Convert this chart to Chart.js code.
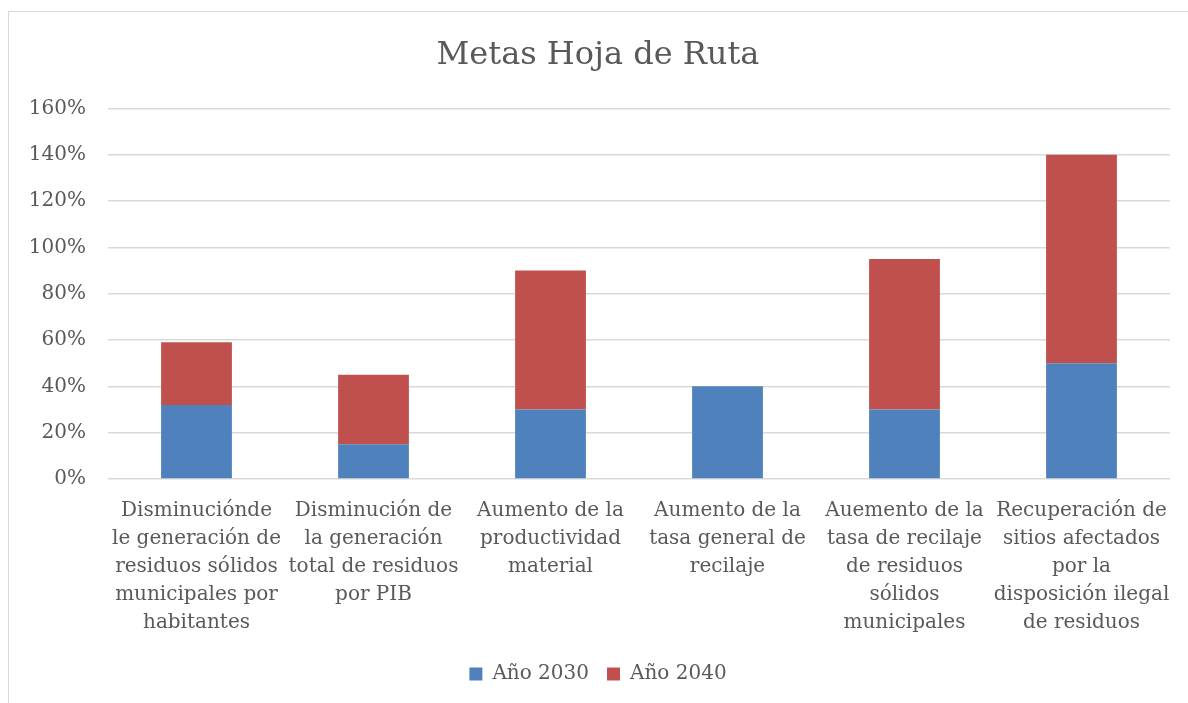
<!DOCTYPE html>
<html>
<head>
<meta charset="utf-8">
<script src="https://cdn.jsdelivr.net/npm/chart.js@4.4.1/dist/chart.umd.min.js"></script>
<style>
    html, body { margin: 0; padding: 0; background: #ffffff; }
    #frame {
        position: absolute; left: 8px; top: 11px;
        width: 1200px; height: 720px;
        border: 1.5px solid #d9d9d9;
        box-sizing: border-box;
    }
    #wrap { position: absolute; left: 0; top: 0; width: 1188px; height: 703px; }
</style>
</head>
<body>
<div id="frame"></div>
<div id="wrap"><canvas id="metasChart"></canvas></div>
<script>
const categorias = [
    ['Disminuciónde', 'le generación de', 'residuos sólidos', 'municipales por', 'habitantes'],
    ['Disminución de', 'la generación', 'total de residuos', 'por PIB'],
    ['Aumento de la', 'productividad', 'material'],
    ['Aumento de la', 'tasa general de', 'recilaje'],
    ['Auemento de la', 'tasa de recilaje', 'de residuos', 'sólidos', 'municipales'],
    ['Recuperación de', 'sitios afectados', 'por la', 'disposición ilegal', 'de residuos']
];
const ano2030 = [32, 15, 30, 40, 30, 50];
const ano2040 = [27, 30, 60, 0, 65, 90];
const ticksY = [0, 20, 40, 60, 80, 100, 120, 140, 160];

const TEXT_COLOR = '#595959';
const GRID_COLOR = '#d9d9d9';
const FONT = 'DejaVu Serif';

const buildOptions = () => ({
    responsive: true,
    maintainAspectRatio: false,
    animation: false,
    layout: { padding: { left: 26, right: 18, top: 0, bottom: 9 } },
    plugins: {
        title: {
            display: true,
            text: 'Metas Hoja de Ruta',
            color: TEXT_COLOR,
            font: { family: FONT, size: 32, weight: 'normal' },
            padding: { top: 36, bottom: 34 }
        },
        legend: {
            position: 'bottom',
            labels: {
                color: TEXT_COLOR,
                font: { family: FONT, size: 20 },
                boxWidth: 13,
                boxHeight: 13,
                padding: 18
            }
        },
        tooltip: { enabled: false }
    },
    scales: {
        x: {
            stacked: true,
            grid: { display: false },
            border: { display: false },
            ticks: {
                color: TEXT_COLOR,
                font: { family: FONT, size: 20, lineHeight: 1.4 },
                maxRotation: 0,
                autoSkip: false,
                padding: 9.5
            }
        },
        y: {
            stacked: true,
            min: 0,
            max: 160,
            afterFit: (scale) => { scale.width = 82; },
            afterBuildTicks: (scale) => { scale.ticks = ticksY.map((v) => ({ value: v })); },
            border: { display: false },
            grid: { color: GRID_COLOR, lineWidth: 1.5, drawTicks: false },
            ticks: {
                color: TEXT_COLOR,
                font: { family: FONT, size: 20 },
                padding: 22,
                callback: (v) => v + '%'
            }
        }
    }
});

window.addEventListener('DOMContentLoaded', () => {
    const ctx = document.getElementById('metasChart').getContext('2d');
    new Chart(ctx, {
        type: 'bar',
        data: {
            labels: categorias,
            datasets: [
                {
                    label: 'Año 2030',
                    data: ano2030,
                    backgroundColor: '#4f81bd',
                    categoryPercentage: 1,
                    barPercentage: 0.4
                },
                {
                    label: 'Año 2040',
                    data: ano2040,
                    backgroundColor: '#c0504d',
                    categoryPercentage: 1,
                    barPercentage: 0.4
                }
            ]
        },
        options: buildOptions()
    });
});
</script>
</body>
</html>
